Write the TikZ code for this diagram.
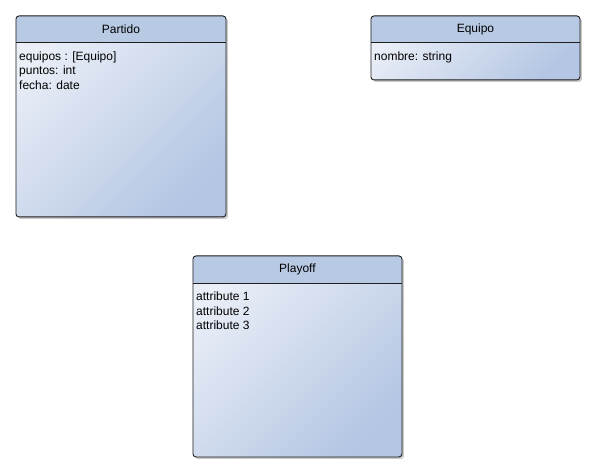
\documentclass[tikz,border=0pt]{standalone}
\usepackage{fontspec}
\setmainfont{Liberation Sans}
\usetikzlibrary{shadows}
\definecolor{bodylight}{HTML}{E9EEF7}
\definecolor{bodydark}{HTML}{B4C6E3}
\definecolor{headcol}{HTML}{B8C9E4}
\definecolor{edgecol}{HTML}{1E1E1E}
\tikzset{
  classbox/.style={draw=edgecol, line width=0.9pt, rounded corners=3pt,
    left color=bodylight, right color=bodydark, shading angle=45,
    drop shadow={shadow xshift=2pt, shadow yshift=-2pt, opacity=0.35, fill=black!60},
    inner sep=0pt, anchor=north west},
  classtitle/.style={font=\fontsize{12}{14}\selectfont, inner sep=0pt, anchor=center},
  classattrs/.style={font=\fontsize{12}{14.5}\selectfont, inner sep=0pt, anchor=north west, align=left},
  divline/.style={draw=edgecol, line width=0.9pt}
}
\newcommand{\umlclass}[8]{%
  % #1 name, #2 x, #3 y, #4 width, #5 height, #6 header height, #7 title, #8 attrs
  \node[classbox, minimum width=#4pt, minimum height=#5pt,
    path picture={\fill[headcol] (path picture bounding box.north west) rectangle ([yshift=-#6pt]path picture bounding box.north east);}]
    (#1) at (#2,#3) {};
  \draw[divline] ([yshift=-#6pt]#1.north west) -- ([yshift=-#6pt]#1.north east);
  \node[classtitle] (#1-title) at ([yshift=-#6pt/2-0.5pt]#1.north) {#7};
  \node[classattrs] (#1-attrs) at ([xshift=3.5pt,yshift=-#6pt-9pt]#1.north west) {#8};
}
\begin{document}
\begin{tikzpicture}[x=1pt,y=-1pt]
\useasboundingbox (0,0) rectangle (595,473);
\fill[white] (0,0) rectangle (595,473);
\umlclass{partido}{15.5}{15.5}{210}{201}{27}{Partido}{equipos : [Equipo]\\puntos: int\\fecha: date}
\umlclass{equipo}{370.5}{15.5}{209}{64}{27}{Equipo}{nombre: string}
\umlclass{playoff}{192.5}{255.5}{209}{201}{27.5}{Playoff}{attribute 1\\attribute 2\\attribute 3}
\end{tikzpicture}
\end{document}
